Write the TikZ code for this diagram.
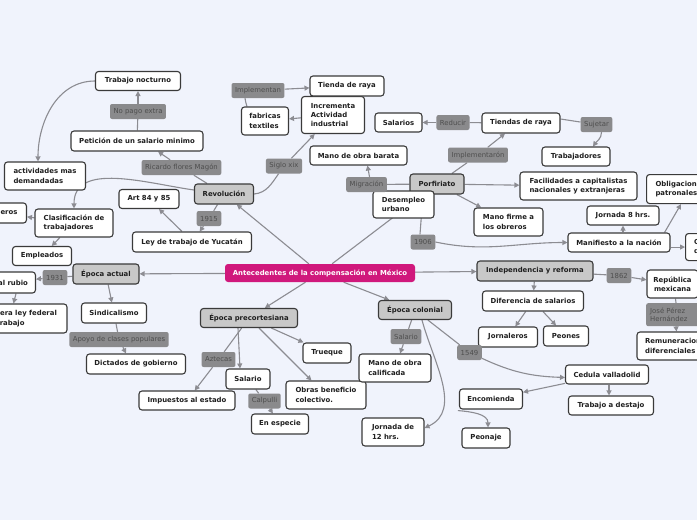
\documentclass[tikz,border=0pt]{standalone}
\usepackage{fontspec}
\setmainfont{DejaVu Sans}
\usetikzlibrary{arrows.meta,calc}
\definecolor{bgc}{RGB}{240,243,252}
\definecolor{edgec}{RGB}{140,140,146}
\definecolor{brd}{RGB}{58,58,58}
\definecolor{mainfill}{RGB}{200,200,200}
\definecolor{lblfill}{RGB}{138,138,140}
\definecolor{lbltext}{RGB}{78,78,78}
\definecolor{magentac}{RGB}{208,24,124}
\pgfdeclarelayer{bg}
\pgfsetlayers{bg,main}
\begin{document}
\begin{tikzpicture}[x=1pt,y=-1pt,
 wbox/.style={draw=brd, line width=1.1pt, fill=white, rounded corners=3pt, inner sep=0pt,
   font=\fontsize{6.9}{9.3}\selectfont\bfseries, text=black!88, align=left},
 gbox/.style={wbox, fill=mainfill},
 cbox/.style={fill=magentac, rounded corners=3pt, inner sep=0pt, text=white,
   font=\fontsize{6.9}{9.3}\selectfont\bfseries},
 lbl/.style={fill=lblfill, rounded corners=2pt, text=lbltext, inner xsep=3.5pt, inner ysep=0pt,
   minimum height=15pt, font=\fontsize{6.9}{8.2}\selectfont, align=left},
 con/.style={draw=edgec, line width=1.1pt},
 arr/.style={con, -{Triangle[length=5pt,width=5pt]}},
]
\begin{pgfonlayer}{bg}
\fill[bgc] (0,0) rectangle (697,520);
\end{pgfonlayer}
\useasboundingbox (0,0) rectangle (697,520);

% central
\node[cbox, minimum width=190pt, minimum height=18pt] (cen) at (320,273) {Antecedentes de la compensación en México};

% main gray nodes
\node[gbox, minimum width=59pt, minimum height=20pt] (rev) at (224,194) {Revolución};
\node[gbox, minimum width=54pt, minimum height=20pt] (porf) at (437,184) {Porfiriato};
\node[gbox, minimum width=66pt, minimum height=20pt] (act) at (106,274) {Época actual};
\node[gbox, minimum width=97pt, minimum height=19pt] (pre) at (249,318) {Época precortesiana};
\node[gbox, minimum width=73pt, minimum height=19pt] (col) at (415,310) {Época colonial};
\node[gbox, minimum width=116pt, minimum height=20pt] (ind) at (535,271) {Independencia y reforma};

% Revolucion branch
\node[wbox, minimum width=85pt, minimum height=19pt] (tn) at (138,81) {Trabajo nocturno};
\node[wbox, minimum width=132pt, minimum height=20pt] (pet) at (137,141) {Petición de un salario minimo};
\node[wbox, minimum width=81pt, minimum height=28pt] (acd) at (45,176) {actividades mas\\demandadas};
\node[wbox, minimum width=60pt, minimum height=19pt] (art) at (149,199) {Art 84 y 85};
\node[wbox, minimum width=78pt, minimum height=28pt] (cla) at (74,223) {Clasificación de\\trabajadores};
\node[wbox, inner xsep=9pt, minimum height=20pt, anchor=east] (jo1) at (27,213) {Jornaleros};
\node[wbox, minimum width=59pt, minimum height=19pt] (emp) at (42,256) {Empleados};
\node[wbox, minimum width=119pt, minimum height=20pt] (ley) at (192,242) {Ley de trabajo de Yucatán};
\node[wbox, minimum width=63pt, minimum height=37pt] (inc) at (333,115) {Incrementa\\Actividad\\industrial};
\node[wbox, minimum width=47pt, minimum height=28pt] (fab) at (265,121) {fabricas\\textiles};
\node[wbox, minimum width=74pt, minimum height=20pt] (tie) at (347,86) {Tienda de raya};

% Epoca actual branch
\node[wbox, inner xsep=7.5pt, minimum height=21pt, anchor=east] (rub) at (36,282.5) {Salario al rubio};
\node[wbox, minimum width=95pt, minimum height=29pt] (pri) at (19.5,318.5) {Primera ley federal\\del trabajo};
\node[wbox, minimum width=65pt, minimum height=20pt] (sin) at (114,313) {Sindicalismo};
\node[wbox, minimum width=99pt, minimum height=20pt] (dic) at (136,364) {Dictados de gobierno};

% precortesiana branch
\node[wbox, minimum width=96pt, minimum height=19pt] (imp) at (187,400.5) {Impuestos al estado};
\node[wbox, minimum width=44pt, minimum height=20pt] (sal) at (248,379) {Salario};
\node[wbox, minimum width=57pt, minimum height=20pt] (esp) at (280,424) {En especie};
\node[wbox, minimum width=80pt, minimum height=28pt] (obr) at (326,395) {Obras beneficio\\colectivo.};
\node[wbox, minimum width=48pt, minimum height=20pt] (tru) at (327,353) {Trueque};

% colonial branch
\node[wbox, minimum width=72pt, minimum height=28pt] (mdc) at (395,368) {Mano de obra\\calificada};
\node[wbox, minimum width=62pt, minimum height=28pt] (j12) at (393,432) {Jornada de\\12 hrs.};
\node[wbox, minimum width=83pt, minimum height=19pt] (ced) at (607,374.5) {Cedula valladolid};
\node[wbox, minimum width=85pt, minimum height=19pt] (des) at (611,405.5) {Trabajo a destajo};
\node[wbox, minimum width=63pt, minimum height=20pt] (enc) at (491,399) {Encomienda};
\node[wbox, minimum width=48pt, minimum height=20pt] (peo) at (486,438) {Peonaje};

% independencia branch
\node[wbox, minimum width=101pt, minimum height=20pt] (dif) at (533,301) {Diferencia de salarios};
\node[wbox, minimum width=59pt, minimum height=20pt] (jo2) at (508,337) {Jornaleros};
\node[wbox, minimum width=45pt, minimum height=20pt] (peon) at (566,336) {Peones};
\node[wbox, minimum width=51pt, minimum height=28pt, align=center] (rep) at (672.5,284) {República\\mexicana};
\node[wbox, minimum width=81pt, minimum height=28pt] (rem) at (677.5,346) {Remuneraciones\\diferenciales};

% porfiriato branch
\node[wbox, minimum width=47pt, minimum height=19pt] (slr) at (398.5,122.5) {Salarios};
\node[wbox, minimum width=97pt, minimum height=19pt] (mob) at (358.5,155.5) {Mano de obra barata};
\node[wbox, minimum width=61pt, minimum height=27pt] (dur) at (403.5,204.5) {Desempleo\\urbano};
\node[wbox, minimum width=78pt, minimum height=20pt] (tdr) at (521,123) {Tiendas de raya};
\node[wbox, minimum width=68pt, minimum height=19pt] (trb) at (576,156.5) {Trabajadores};
\node[wbox, minimum width=117pt, minimum height=28pt] (fac) at (578.5,186) {Facilidades a capitalistas\\nacionales y extranjeras};
\node[wbox, minimum width=69pt, minimum height=28pt] (mfo) at (508.5,222) {Mano firme a\\los obreros};
\node[wbox, minimum width=72pt, minimum height=19pt] (j8) at (623,215.5) {Jornada 8 hrs.};
\node[wbox, minimum width=102pt, minimum height=19pt] (man) at (619,242.5) {Manifiesto a la nación};
\node[wbox, minimum width=68pt, minimum height=29pt, anchor=north west] (obl) at (646,174) {Obligaciones\\patronales};
\node[wbox, minimum width=64pt, minimum height=27pt, anchor=north west] (cnd) at (685,233) {Condiciones\\de trabajo};

% labels
\node[lbl] (npe) at (138,111.5) {No pago extra};
\node[lbl] (rfm) at (181.5,167.5) {Ricardo flores Magón};
\node[lbl] (y15) at (209,218.5) {1915};
\node[lbl] (six) at (284,166) {Siglo xix};
\node[lbl] (imn) at (258,90.5) {Implementan};
\node[lbl] (y31) at (55,277.5) {1931};
\node[lbl] (apo) at (119,339.5) {Apoyo de clases populares};
\node[lbl] (azt) at (218.5,359.5) {Aztecas};
\node[lbl] (cal) at (264.5,401) {Calpulli};
\node[lbl] (slb) at (406,336.5) {Salario};
\node[lbl] (y49) at (469.5,352.5) {1549};
\node[lbl] (y62) at (619,275.5) {1862};
\node[lbl, minimum height=23pt, inner xsep=4pt, anchor=north west] (jph) at (646,303) {José Pérez\\Hernández\hspace*{12pt}};
\node[lbl] (mig) at (366.5,184.5) {Migración};
\node[lbl] (imr) at (478,155) {Implementarón};
\node[lbl] (red) at (453,122.5) {Reducir};
\node[lbl] (suj) at (596.5,124.5) {Sujetar};
\node[lbl] (y06) at (423,242) {1906};

\begin{pgfonlayer}{bg}
% from central
\draw[arr] (cen) -- (rev);
\draw[arr] (cen) -- (porf);
\draw[arr] (cen) -- (act);
\draw[arr] (cen) -- (ind);
\draw[arr] (cen) -- (pre);
\draw[arr] (cen) -- (col);
% revolucion
\draw[con] (rev) -- (rfm);
\draw[arr] (rfm) -- ([xshift=21pt]pet.south);
\draw[con] (pet) -- (npe);
\draw[arr] (npe) -- (tn);
\draw[arr] (tn.west) to[out=180,in=90] ([xshift=-7pt]acd.north);
\draw[arr] ([yshift=4pt]rev.west) to[out=172,in=90] (cla.north);
\draw[con] (rev) -- (y15);
\draw[arr] (y15) -- (ley);
\draw[arr] ([xshift=-10pt]ley.north) -- ([xshift=10pt]art.south);
\draw[con] (rev.east) to[out=5,in=235] (six);
\draw[arr] (six) -- (inc);
\draw[arr] (inc) -- (fab);
\draw[con] ([xshift=-18pt]fab.north) to[out=100,in=-90] ([xshift=-13pt]imn.south);
\draw[arr] (imn) -- (tie);
\draw[arr] (cla) -- (jo1);
\draw[arr] (cla) -- (emp);
% epoca actual
\draw[con] (act) -- (y31);
\draw[arr] (y31) -- (rub);
\draw[arr] ([xshift=-20pt]rub.south east) -- ([xshift=-6pt]pri.north);
\draw[arr] (act) -- (sin);
\draw[con] (sin) -- (apo);
\draw[arr] (apo) -- ([xshift=-10pt]dic.north);
% precortesiana
\draw[con] (pre) -- (azt);
\draw[arr] (azt) -- (imp);
\draw[arr] ([xshift=-11pt]pre.south) -- ([xshift=-8pt]sal.north);
\draw[con] (sal) -- (cal);
\draw[arr] (cal) -- (esp);
\draw[arr] (pre) -- (obr);
\draw[arr] (pre) -- (tru);
% colonial
\draw[con] (col) -- (slb);
\draw[arr] (slb) -- (mdc);
\draw[arr] ([xshift=7pt]col.south) to[out=-75,in=25] ([yshift=4pt]j12.east);
\draw[con] (col) -- (y49);
\draw[arr] (y49) to[out=-25,in=178] ([yshift=-3pt]ced.west);
\draw[arr] (ced) -- (enc);
\draw[arr] ([xshift=2pt]ced.south) -- ([xshift=-2pt]des.north);
\draw[arr] ([xshift=-1pt,yshift=-1pt]enc.south west) to[out=-5,in=90] ([xshift=2pt]peo.north);
% independencia
\draw[arr] (ind) -- (dif);
\draw[arr] (dif) -- (jo2);
\draw[arr] (dif) -- (peon);
\draw[con] (ind) -- (y62);
\draw[arr] (y62) -- (rep);
\draw[con] ([xshift=3pt]rep.south) -- ([xshift=30pt]jph.north west);
\draw[arr] ([xshift=30pt]jph.south west) -- ([xshift=-1pt]rem.north);
% porfiriato
\draw[con] (porf) -- (mig);
\draw[arr] ([xshift=3pt]mig.north) -- ([xshift=9pt]mob.south);
\draw[con] (porf) -- (imr);
\draw[arr] (imr) -- ([xshift=-16pt]tdr.south);
\draw[con] (tdr) -- (red);
\draw[arr] (red) -- (slr);
\draw[con] ([yshift=4pt]tdr.east) -- (suj);
\draw[arr] ([xshift=5pt]suj.south) to[out=-90,in=55] ([xshift=17pt]trb.north);
\draw[arr] (porf) -- (fac);
\draw[arr] (porf) -- (mfo);
\draw[con] ([xshift=-14pt]porf.south) -- ([xshift=-3pt]y06.north);
\draw[arr] (y06.east) to[out=-12,in=180] (man.west);
\draw[arr] (man.north -| j8.south) -- (j8.south);
\draw[arr] ([xshift=-6pt]man.north east) -- ([xshift=35pt]obl.south west);
\draw[arr] (man.east |- cnd.west) -- (cnd.west);
\end{pgfonlayer}
\end{tikzpicture}
\end{document}
